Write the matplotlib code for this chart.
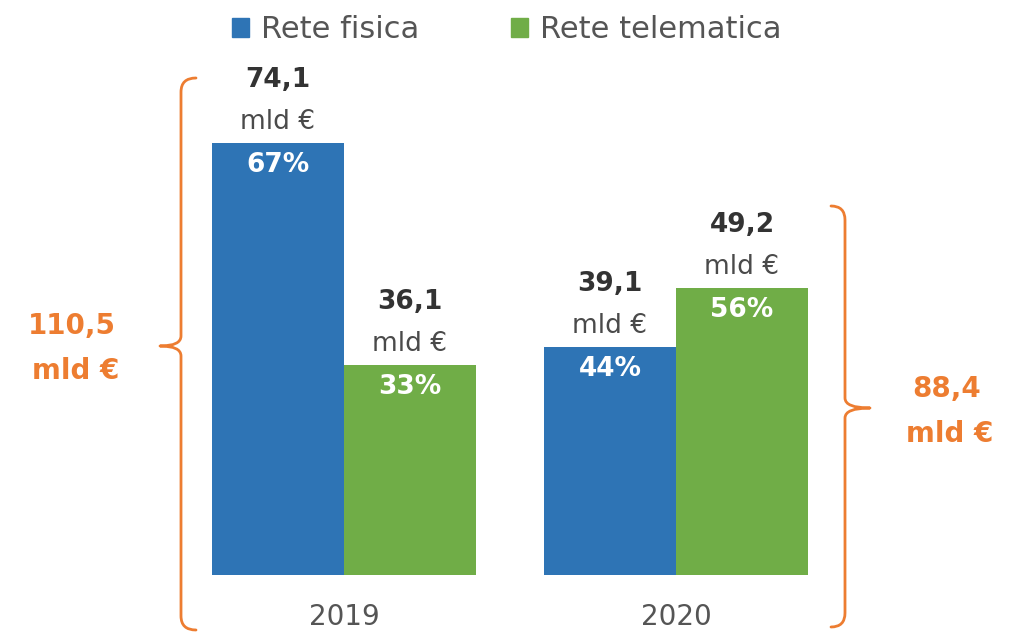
import matplotlib
matplotlib.use("Agg")
import matplotlib.pyplot as plt
from matplotlib.path import Path
from matplotlib.patches import PathPatch, Patch
import numpy as np

years = ["2019", "2020"]
series = ["Rete fisica", "Rete telematica"]
fisica = [74.1, 39.1]
telematica = [36.1, 49.2]
fisica_pct = ["67%", "44%"]
telematica_pct = ["33%", "56%"]
totals = ["110,5", "88,4"]

BLUE = "#2E74B5"
GREEN = "#70AD47"
ORANGE = "#ED7D31"
DARK = "#333333"
GREY = "#4a4a4a"

W, H = 1015, 634
fig = plt.figure(figsize=(W / 100, H / 100), dpi=100)
plt.rcParams['font.family'] = ['DejaVu Sans']

# main axes: bottom at baseline pixel 575
base_px = 575
ax = fig.add_axes([0, (H - base_px) / H, 1, base_px / H])
ppu = 5.83
ax.set_ylim(0, base_px / ppu)
gap = 332.0
ax.set_xlim(-344 / gap, (W - 344) / gap)
bw = 132 / gap
x = np.arange(len(years))

b1 = ax.bar(x - bw / 2, fisica, bw, color=BLUE, label=series[0])
b2 = ax.bar(x + bw / 2, telematica, bw, color=GREEN, label=series[1])

def fmt(v):
    return f"{v:.1f}".replace(".", ",")

for bars, vals, pcts in [(b1, fisica, fisica_pct), (b2, telematica, telematica_pct)]:
    for rect, v, p in zip(bars, vals, pcts):
        cx = rect.get_x() + rect.get_width() / 2
        top = rect.get_height()
        ax.text(cx, top + 63 / ppu, fmt(v), ha="center", va="center",
                fontsize=19, fontweight="bold", color=DARK)
        ax.text(cx, top + 21 / ppu, "mld €", ha="center", va="center",
                fontsize=19, color=GREY)
        ax.text(cx, top - 22 / ppu, p, ha="center", va="center",
                fontsize=19, fontweight="bold", color="white")

ax.set_xticks(x)
ax.set_xticklabels(years, fontsize=20, color="#555555")
ax.tick_params(axis="x", length=0, pad=20)
ax.set_yticks([])
for s in ax.spines.values():
    s.set_visible(False)
ax.patch.set_alpha(0)

# legend
handles = [Patch(color=BLUE), Patch(color=GREEN)]
leg = fig.legend(handles, series, loc="center", bbox_to_anchor=(507 / W, 1 - 30 / H),
                 ncol=2, frameon=False, fontsize=22, handlelength=0.55, handleheight=0.55,
                 handletextpad=0.4, columnspacing=3.0, labelcolor="#555555")

# overlay in pixel coordinates for braces
ov = fig.add_axes([0, 0, 1, 1])
ov.set_xlim(0, W)
ov.set_ylim(H, 0)
ov.axis("off")
ov.patch.set_alpha(0)

def brace(xl, y0, y1, ytip, xtip, d, curl):
    # d = direction of tip (-1 left, +1 right)
    r = 14
    rt = 10
    verts = [(xl - d * curl, y0), (xl, y0), (xl, y0 + r),
             (xl, ytip - rt), (xl, ytip), (xtip, ytip),
             (xl, ytip), (xl, ytip + rt),
             (xl, y1 - r), (xl, y1), (xl - d * curl, y1)]
    codes = [Path.MOVETO, Path.CURVE3, Path.CURVE3,
             Path.LINETO, Path.CURVE3, Path.CURVE3,
             Path.CURVE3, Path.CURVE3,
             Path.LINETO, Path.CURVE3, Path.CURVE3]
    ov.add_patch(PathPatch(Path(verts, codes), fill=False, edgecolor=ORANGE, lw=2.0,
                           capstyle="round", joinstyle="round"))

brace(181, 78, 630, 346, 160, -1, 15)
brace(845, 206, 627, 408, 870, 1, 14)

ov.text(72, 326, totals[0], ha="center", va="center", fontsize=20, fontweight="bold", color=ORANGE)
ov.text(76, 371, "mld €", ha="center", va="center", fontsize=20, fontweight="bold", color=ORANGE)
ov.text(947, 389, totals[1], ha="center", va="center", fontsize=20, fontweight="bold", color=ORANGE)
ov.text(950, 434, "mld €", ha="center", va="center", fontsize=20, fontweight="bold", color=ORANGE)

fig.savefig("out.png", dpi=100)
